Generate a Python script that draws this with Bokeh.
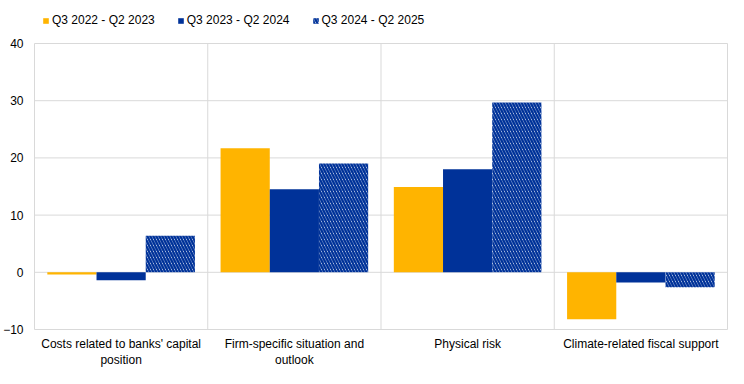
from bokeh.plotting import figure
from bokeh.models import ColumnDataSource, Range1d, FixedTicker, Legend, LegendItem
from bokeh.embed import file_html
from bokeh.resources import INLINE

categories = ["Costs related to banks' capital\nposition",
              "Firm-specific situation and\noutlook",
              "Physical risk",
              "Climate-related fiscal support"]
series_names = ["Q3 2022 - Q2 2023", "Q3 2023 - Q2 2024", "Q3 2024 - Q2 2025"]
s2022 = [-0.4, 21.7, 14.9, -8.2]
s2023 = [-1.4, 14.5, 18.0, -1.8]
s2024 = [6.4, 19.0, 29.7, -2.6]
y_ticks = [-10, 0, 10, 20, 30, 40]

YELLOW = "#FFB400"
BLUE = "#003299"
GRID = "#D9D9D9"
FONT = "Liberation Sans"

n = len(categories)
centers = [i + 0.5 for i in range(n)]
bounds = list(range(n + 1))
bw = 0.284
offsets = [-bw, 0.0, bw]

# frame: pixels 31..728 horizontally, 5..330 vertically
W, H = 728, 372
left_b, right_b, top_b, bot_b = 31, 0, 5, 42
frame_w = W - left_b - right_b
pad_x = 1.0 * n / (frame_w - 2)
px_per_unit = 286 / 50.0
y_lo = y_ticks[0] - 1.0 / px_per_unit
y_hi = y_ticks[-1] + 38.0 / px_per_unit

p = figure(width=W, height=H, output_backend="svg", toolbar_location=None,
           x_range=Range1d(-pad_x, n + pad_x), y_range=Range1d(y_lo, y_hi),
           min_border_left=left_b, min_border_right=right_b,
           min_border_top=top_b, min_border_bottom=bot_b)
p.outline_line_color = None
p.background_fill_color = "white"
p.border_fill_color = "white"
p.xgrid.grid_line_color = None
p.ygrid.grid_line_color = None

# grid lines (kept within the plotting box)
p.segment(x0=[0] * len(y_ticks), x1=[n] * len(y_ticks), y0=y_ticks, y1=y_ticks,
          line_color=GRID, line_width=1)
p.segment(x0=bounds, x1=bounds, y0=[y_ticks[0]] * len(bounds), y1=[y_ticks[-1]] * len(bounds),
          line_color=GRID, line_width=1)

src0 = ColumnDataSource(dict(x=[c + offsets[0] for c in centers], top=s2022))
src1 = ColumnDataSource(dict(x=[c + offsets[1] for c in centers], top=s2023))
src2 = ColumnDataSource(dict(x=[c + offsets[2] for c in centers], top=s2024))

r0 = p.vbar(x="x", top="top", bottom=0, width=bw, source=src0,
            fill_color=YELLOW, line_color=None)
r1 = p.vbar(x="x", top="top", bottom=0, width=bw, source=src1,
            fill_color=BLUE, line_color=None)
r2 = p.vbar(x="x", top="top", bottom=0, width=bw, source=src2,
            fill_color="white", line_color=None,
            hatch_pattern="\\", hatch_color=BLUE, hatch_scale=6, hatch_weight=2.4)

# axes
p.xaxis.ticker = FixedTicker(ticks=centers)
p.xaxis.major_label_overrides = {c: lab for c, lab in zip(centers, categories)}
p.yaxis.ticker = FixedTicker(ticks=y_ticks)
for ax in (p.xaxis[0], p.yaxis[0]):
    ax.axis_line_color = None
    ax.major_tick_line_color = None
    ax.minor_tick_line_color = None
    ax.major_label_text_font = FONT
    ax.major_label_text_font_size = "12px"
    ax.major_label_text_color = "#000000"
p.xaxis.major_label_standoff = 0
p.yaxis.major_tick_out = 0
p.yaxis.major_tick_in = 0
p.yaxis.major_label_standoff = 10

legend = Legend(items=[LegendItem(label=series_names[0], renderers=[r0]),
                       LegendItem(label=series_names[1], renderers=[r1]),
                       LegendItem(label=series_names[2], renderers=[r2])],
                orientation="horizontal", location=(9, 303),
                glyph_width=7, glyph_height=7, label_height=14, label_standoff=3,
                spacing=22, padding=0, margin=0,
                label_text_font=FONT, label_text_font_size="12px",
                label_text_color="#000000",
                border_line_color=None, background_fill_alpha=0)
p.add_layout(legend, "center")

open("out.html", "w").write(file_html(p, INLINE))
